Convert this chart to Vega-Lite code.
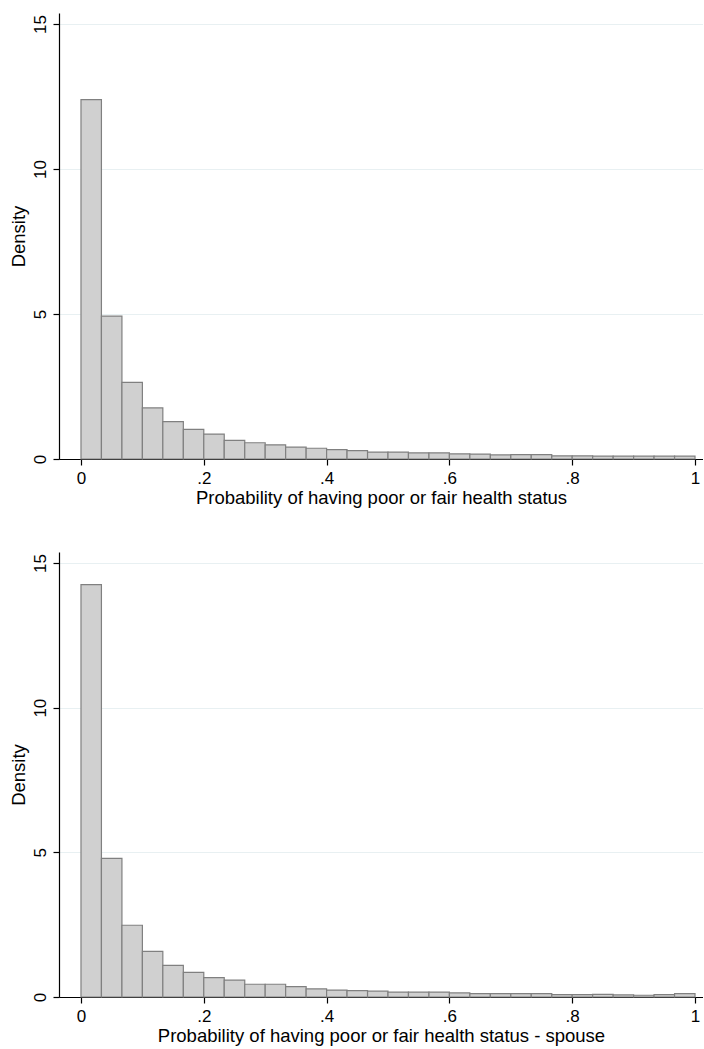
{
  "$schema": "https://vega.github.io/schema/vega-lite/v6.json",
  "padding": {"left": 9, "top": 13, "right": 0, "bottom": 5},
  "background": "white",
  "spacing": 45,
  "config": {
    "view": {"stroke": null},
    "font": "Liberation Sans",
    "axis": {
      "labelFont": "Liberation Sans",
      "titleFont": "Liberation Sans",
      "labelFontSize": 17,
      "titleFontSize": 18.5,
      "titleFontWeight": "normal",
      "labelColor": "black",
      "titleColor": "black",
      "domainColor": "black",
      "tickColor": "black",
      "domainWidth": 1.2,
      "tickWidth": 1.2,
      "tickSize": 6
    }
  },
  "datasets": {
    "hist": [
      {"panel": "self", "bin_start": 0.0000, "bin_end": 0.0333, "density": 12.39},
      {"panel": "self", "bin_start": 0.0333, "bin_end": 0.0667, "density": 4.93},
      {"panel": "self", "bin_start": 0.0667, "bin_end": 0.1000, "density": 2.64},
      {"panel": "self", "bin_start": 0.1000, "bin_end": 0.1333, "density": 1.76},
      {"panel": "self", "bin_start": 0.1333, "bin_end": 0.1667, "density": 1.29},
      {"panel": "self", "bin_start": 0.1667, "bin_end": 0.2000, "density": 1.02},
      {"panel": "self", "bin_start": 0.2000, "bin_end": 0.2333, "density": 0.86},
      {"panel": "self", "bin_start": 0.2333, "bin_end": 0.2667, "density": 0.64},
      {"panel": "self", "bin_start": 0.2667, "bin_end": 0.3000, "density": 0.56},
      {"panel": "self", "bin_start": 0.3000, "bin_end": 0.3333, "density": 0.49},
      {"panel": "self", "bin_start": 0.3333, "bin_end": 0.3667, "density": 0.41},
      {"panel": "self", "bin_start": 0.3667, "bin_end": 0.4000, "density": 0.37},
      {"panel": "self", "bin_start": 0.4000, "bin_end": 0.4333, "density": 0.32},
      {"panel": "self", "bin_start": 0.4333, "bin_end": 0.4667, "density": 0.29},
      {"panel": "self", "bin_start": 0.4667, "bin_end": 0.5000, "density": 0.24},
      {"panel": "self", "bin_start": 0.5000, "bin_end": 0.5333, "density": 0.24},
      {"panel": "self", "bin_start": 0.5333, "bin_end": 0.5667, "density": 0.21},
      {"panel": "self", "bin_start": 0.5667, "bin_end": 0.6000, "density": 0.21},
      {"panel": "self", "bin_start": 0.6000, "bin_end": 0.6333, "density": 0.18},
      {"panel": "self", "bin_start": 0.6333, "bin_end": 0.6667, "density": 0.17},
      {"panel": "self", "bin_start": 0.6667, "bin_end": 0.7000, "density": 0.14},
      {"panel": "self", "bin_start": 0.7000, "bin_end": 0.7333, "density": 0.15},
      {"panel": "self", "bin_start": 0.7333, "bin_end": 0.7667, "density": 0.15},
      {"panel": "self", "bin_start": 0.7667, "bin_end": 0.8000, "density": 0.11},
      {"panel": "self", "bin_start": 0.8000, "bin_end": 0.8333, "density": 0.11},
      {"panel": "self", "bin_start": 0.8333, "bin_end": 0.8667, "density": 0.10},
      {"panel": "self", "bin_start": 0.8667, "bin_end": 0.9000, "density": 0.10},
      {"panel": "self", "bin_start": 0.9000, "bin_end": 0.9333, "density": 0.10},
      {"panel": "self", "bin_start": 0.9333, "bin_end": 0.9667, "density": 0.10},
      {"panel": "self", "bin_start": 0.9667, "bin_end": 1.0000, "density": 0.10},
      {"panel": "spouse", "bin_start": 0.0000, "bin_end": 0.0333, "density": 14.25},
      {"panel": "spouse", "bin_start": 0.0333, "bin_end": 0.0667, "density": 4.79},
      {"panel": "spouse", "bin_start": 0.0667, "bin_end": 0.1000, "density": 2.48},
      {"panel": "spouse", "bin_start": 0.1000, "bin_end": 0.1333, "density": 1.58},
      {"panel": "spouse", "bin_start": 0.1333, "bin_end": 0.1667, "density": 1.09},
      {"panel": "spouse", "bin_start": 0.1667, "bin_end": 0.2000, "density": 0.85},
      {"panel": "spouse", "bin_start": 0.2000, "bin_end": 0.2333, "density": 0.67},
      {"panel": "spouse", "bin_start": 0.2333, "bin_end": 0.2667, "density": 0.58},
      {"panel": "spouse", "bin_start": 0.2667, "bin_end": 0.3000, "density": 0.44},
      {"panel": "spouse", "bin_start": 0.3000, "bin_end": 0.3333, "density": 0.44},
      {"panel": "spouse", "bin_start": 0.3333, "bin_end": 0.3667, "density": 0.36},
      {"panel": "spouse", "bin_start": 0.3667, "bin_end": 0.4000, "density": 0.28},
      {"panel": "spouse", "bin_start": 0.4000, "bin_end": 0.4333, "density": 0.24},
      {"panel": "spouse", "bin_start": 0.4333, "bin_end": 0.4667, "density": 0.22},
      {"panel": "spouse", "bin_start": 0.4667, "bin_end": 0.5000, "density": 0.20},
      {"panel": "spouse", "bin_start": 0.5000, "bin_end": 0.5333, "density": 0.17},
      {"panel": "spouse", "bin_start": 0.5333, "bin_end": 0.5667, "density": 0.17},
      {"panel": "spouse", "bin_start": 0.5667, "bin_end": 0.6000, "density": 0.17},
      {"panel": "spouse", "bin_start": 0.6000, "bin_end": 0.6333, "density": 0.14},
      {"panel": "spouse", "bin_start": 0.6333, "bin_end": 0.6667, "density": 0.12},
      {"panel": "spouse", "bin_start": 0.6667, "bin_end": 0.7000, "density": 0.12},
      {"panel": "spouse", "bin_start": 0.7000, "bin_end": 0.7333, "density": 0.12},
      {"panel": "spouse", "bin_start": 0.7333, "bin_end": 0.7667, "density": 0.12},
      {"panel": "spouse", "bin_start": 0.7667, "bin_end": 0.8000, "density": 0.08},
      {"panel": "spouse", "bin_start": 0.8000, "bin_end": 0.8333, "density": 0.08},
      {"panel": "spouse", "bin_start": 0.8333, "bin_end": 0.8667, "density": 0.09},
      {"panel": "spouse", "bin_start": 0.8667, "bin_end": 0.9000, "density": 0.07},
      {"panel": "spouse", "bin_start": 0.9000, "bin_end": 0.9333, "density": 0.06},
      {"panel": "spouse", "bin_start": 0.9333, "bin_end": 0.9667, "density": 0.08},
      {"panel": "spouse", "bin_start": 0.9667, "bin_end": 1.0000, "density": 0.12}
    ]
  },
  "vconcat": [
    {
      "width": 644,
      "height": 446,
      "data": {"name": "hist"},
      "transform": [{"filter": "datum.panel === 'self'"}],
      "mark": {"type": "rect", "fill": "#d0d0d0", "stroke": "#808080", "strokeWidth": 1.2},
      "encoding": {
        "x": {
          "field": "bin_start", "type": "quantitative",
          "scale": {"domain": [-0.0358, 1.013], "nice": false, "zero": false},
          "axis": {"values": [0, 0.2, 0.4, 0.6, 0.8, 1], "grid": false, "labelPadding": 5, "titlePadding": 2,
                   "labelExpr": "replace(format(datum.value, '.1~f'), '0.', '.')",
                   "title": "Probability of having poor or fair health status"}
        },
        "x2": {"field": "bin_end"},
        "y": {
          "field": "density", "type": "quantitative",
          "scale": {"domain": [0, 15.38], "nice": false},
          "axis": {"values": [0, 5, 10, 15], "grid": true, "gridColor": "#e8f0f2", "gridWidth": 1.2,
                   "labelAngle": -90, "labelAlign": "center", "labelBaseline": "bottom", "labelPadding": 4,
                   "titlePadding": 3, "title": "Density"}
        },
        "y2": {"datum": 0}
      }
    },
    {
      "width": 644,
      "height": 445,
      "data": {"name": "hist"},
      "transform": [{"filter": "datum.panel === 'spouse'"}],
      "mark": {"type": "rect", "fill": "#d0d0d0", "stroke": "#808080", "strokeWidth": 1.2},
      "encoding": {
        "x": {
          "field": "bin_start", "type": "quantitative",
          "scale": {"domain": [-0.0358, 1.013], "nice": false, "zero": false},
          "axis": {"values": [0, 0.2, 0.4, 0.6, 0.8, 1], "grid": false, "labelPadding": 5, "titlePadding": 2,
                   "labelExpr": "replace(format(datum.value, '.1~f'), '0.', '.')",
                   "title": "Probability of having poor or fair health status - spouse"}
        },
        "x2": {"field": "bin_end"},
        "y": {
          "field": "density", "type": "quantitative",
          "scale": {"domain": [0, 15.38], "nice": false},
          "axis": {"values": [0, 5, 10, 15], "grid": true, "gridColor": "#e8f0f2", "gridWidth": 1.2,
                   "labelAngle": -90, "labelAlign": "center", "labelBaseline": "bottom", "labelPadding": 4,
                   "titlePadding": 3, "title": "Density"}
        },
        "y2": {"datum": 0}
      }
    }
  ]
}
